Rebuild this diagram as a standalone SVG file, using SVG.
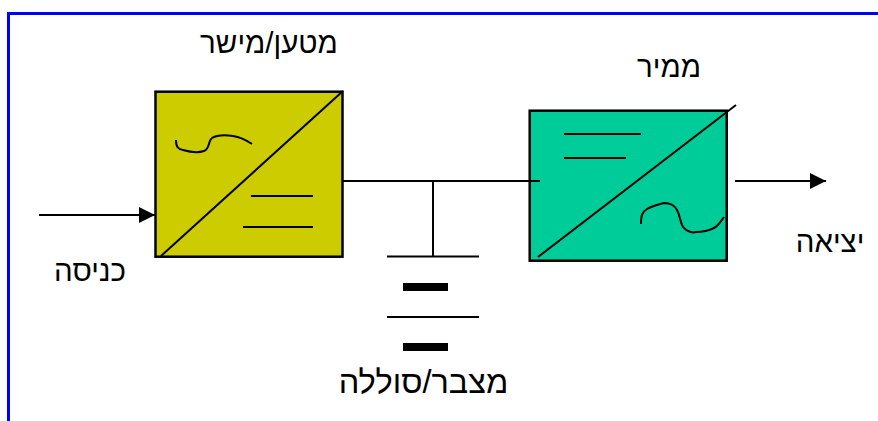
<svg xmlns="http://www.w3.org/2000/svg" width="878" height="421" viewBox="0 0 878 421">
<style>
.ln{fill:none;stroke:#000;stroke-width:2}
.box{stroke:#000;stroke-width:2.500}
.t{font-family:"Liberation Sans",Arial,sans-serif;font-size:29.500px;fill:#000;text-anchor:middle;direction:rtl}
</style>
<defs>
<marker id="a" markerUnits="userSpaceOnUse" markerWidth="16" markerHeight="16" refX="16" refY="8" orient="auto"><path d="M0 0L16 8L0 16Z" fill="#000"/></marker>
</defs>
<rect width="878" height="421" fill="#fff"/>
<path id="frame" d="M8.500 421V13.500H878" fill="none" stroke="#00f" stroke-width="3"/>
<g id="rectifier">
<rect class="box" x="155.500" y="91.700" width="187" height="165" fill="#cccc00"/>
<path class="ln" d="M161 256L343 91"/>
<path class="ln" d="M176 140C176 147 178 149 183 150C190 152 198 153 204 151C210 149 208 141 212 138C217 135 226 135 233 136C240 137 246 140 252 144"/>
<path class="ln" d="M251 196H313M243 227H313"/>
<text class="t" x="269" y="53">מטען/מישר</text>
</g>
<g id="inverter">
<rect class="box" x="529.700" y="110.700" width="197" height="150" fill="#00cc99"/>
<path class="ln" d="M538 257L736 105"/>
<path class="ln" d="M564 134H641M564 158H626"/>
<path class="ln" d="M641 224C641 216 642 212 647 209C652 206 660 204 664 203C670 203 675 206 677 210C680 215 680 222 683 227C687 232 693 233 696 232C703 232 710 230 714 228C718 226 721 221 724 217"/>
<text class="t" x="669" y="77">ממיר</text>
</g>
<g id="battery">
<path class="ln" d="M387 256.500H479M387 317H479"/>
<rect x="403" y="283" width="45" height="8" fill="#000"/>
<rect x="403" y="343" width="45" height="8" fill="#000"/>
<text class="t" x="423.500" y="393" style="font-size:32.500px">מצבר/סוללה</text>
</g>
<g id="input-label"><text class="t" x="90" y="281">כניסה</text></g>
<g id="output-label"><text class="t" x="830" y="252">יציאה</text></g>
<g id="connectors">
<path class="ln" d="M39 215H155" marker-end="url(#a)"/>
<path class="ln" d="M343 181H540M433 181V256"/>
<path class="ln" d="M735 181H826" marker-end="url(#a)"/>
</g>
</svg>
